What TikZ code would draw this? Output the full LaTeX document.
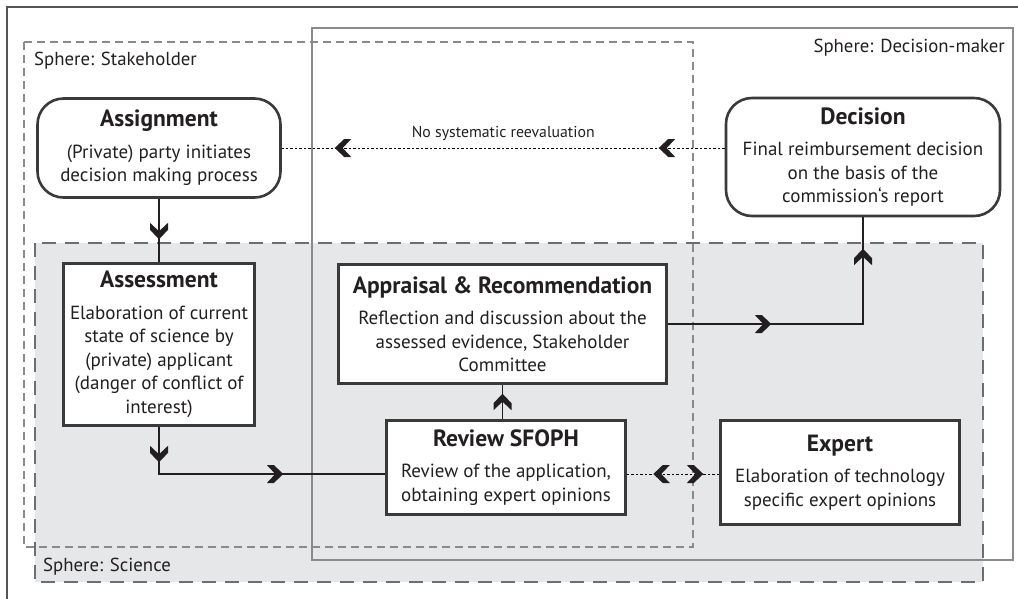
\documentclass[tikz,border=0pt]{standalone}
\usepackage{fontspec}
\setmainfont{PT Sans}
\usetikzlibrary{decorations.markings,calc}
\definecolor{txtc}{HTML}{231F20}
\definecolor{boxc}{HTML}{3A3A3A}
\definecolor{sphc}{HTML}{8A8A8A}
\definecolor{scic}{HTML}{E6E7E8}
\definecolor{scib}{HTML}{6D6E70}
\definecolor{framec}{HTML}{555555}
\newcommand\bodyfont{\fontsize{19}{23.5}\selectfont}
\newcommand\titlefont{\fontsize{23.5}{23.5}\selectfont\bfseries}
\newcommand\labfont{\fontsize{18.8}{21}\selectfont}
\newcommand\smallfont{\fontsize{15.8}{18}\selectfont}
\newcommand\chevshape{\fill[txtc] (0pt,0pt) -- (-9.5pt,9pt) -- (-16.5pt,9pt) -- (-8pt,0pt) -- (-16.5pt,-9pt) -- (-9.5pt,-9pt) -- cycle;}
\tikzset{
  chev/.style={postaction={decorate,decoration={markings,mark=at position #1pt with {\chevshape}}}},
  rchev/.style={postaction={decorate,decoration={markings,mark=at position #1pt with {\begin{scope}[xscale=-1]\chevshape\end{scope}}}}},
  proc/.style={draw=boxc, line width=2.6pt, fill=white, inner sep=0pt, align=center, text=txtc, font=\bodyfont},
  term/.style={proc, rounded corners=26pt},
  lab/.style={inner sep=0pt, text=txtc, font=\labfont},
  conn/.style={draw=txtc, line width=1.1pt},
  dotc/.style={draw=black, line width=0.9pt, dash pattern=on 2.5pt off 2pt},
}
\begin{document}
\begin{tikzpicture}[x=1pt,y=-1pt]
\useasboundingbox (0,0) rectangle (1018,598);
\clip (0,0) rectangle (1018,598);
% spheres
\fill[scic] (35,243) rectangle (983,582);
\draw[sphc, line width=1.2pt, dash pattern=on 8pt off 5pt] (24,42) rectangle (693,547);
\draw[sphc, line width=1.2pt] (312,28) rectangle (1013,560);
\draw[scib, line width=1.3pt, dash pattern=on 14pt off 9pt] (35,243) rectangle (983,582);
\draw[framec, line width=1.2pt] (7,640) -- (7,7) -- (1060,7);
% sphere labels
\node[lab, anchor=west] (lstake) at (34,61) {Sphere: Stakeholder};
\node[lab, anchor=east] (ldec) at (1005,48) {Sphere: Decision-maker};
\node[lab, anchor=west] (lsci) at (43,567) {Sphere: Science};
% nodes
\node[term, minimum width=243pt, minimum height=99pt] (assign) at (159,148)
  {{\titlefont Assignment}\\[8pt](Private) party initiates\\decision making process};
\node[term, minimum width=274pt, minimum height=118pt] (decision) at (863,157)
  {{\titlefont Decision}\\[8pt]Final reimbursement decision\\on the basis of the\\commission‘s report};
\node[proc, minimum width=191pt, minimum height=162pt] (assess) at (159,344.5)
  {{\titlefont Assessment}\\[8pt]Elaboration of current\\state of science by\\(private) applicant\\(danger of conflict of\\interest)};
\node[proc, minimum width=328pt, minimum height=119pt] (apprais) at (502.5,324)
  {{\titlefont Appraisal \& Recommendation}\\[8pt]Reflection and discussion about the\\assessed evidence, Stakeholder\\Committee};
\node[proc, minimum width=239pt, minimum height=94pt] (review) at (506,467.5)
  {{\titlefont Review SFOPH}\\[8pt]Review of the application,\\obtaining expert opinions};
\node[proc, minimum width=239pt, minimum height=104pt] (expert) at (840,472.5)
  {{\titlefont Expert}\\[8pt]Elaboration of technology\\specific expert opinions};
% connectors
\draw[conn, chev=40.5] (assign.south) -- (assess.north);
\draw[conn, chev=35.5, chev=171.5] (assess.south) |- ([yshift=-6.5pt]review.west);
\draw[conn, chev=25.5] (review.north -| apprais.south) -- (apprais.south);
\draw[conn, chev=103.5, chev=270.5] (apprais.east) -| (decision.south);
\draw[dotc, chev=66, chev=390] (decision.west |- assign.east) -- (assign.east)
  node[lab, font=\smallfont, pos=0.5, above=7pt] (lnore) {No systematic reevaluation};
\draw[dotc, rchev=26.5, chev=76.5] ([yshift=-6.5pt]review.east) -- ([yshift=-1.5pt]expert.west);
\end{tikzpicture}
\end{document}
